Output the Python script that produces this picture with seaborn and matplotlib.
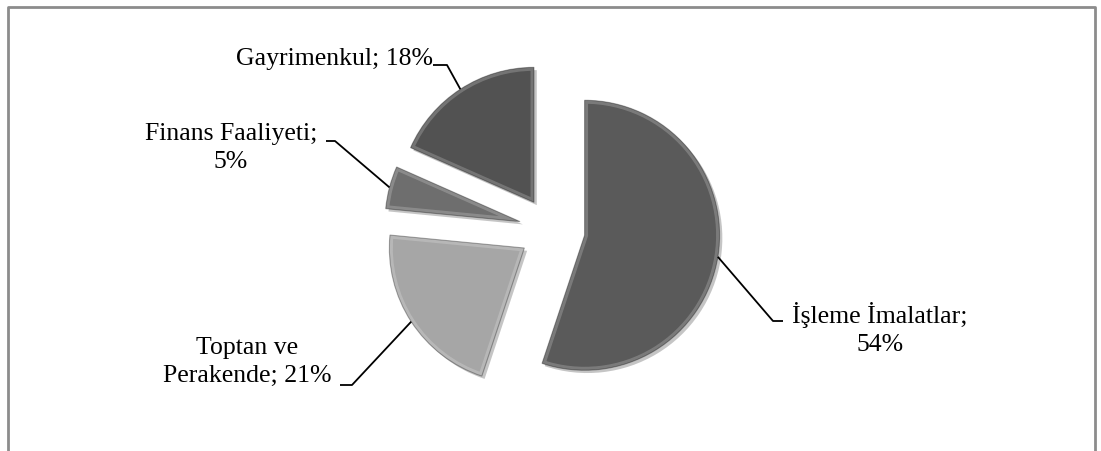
"""Exploded pie of sector shares, redrawn in grey tones"""

import matplotlib
matplotlib.use("Agg")
import matplotlib.pyplot as plt
import matplotlib.patches as mpatches
import matplotlib.patheffects as pe
import numpy as np
import seaborn as sns

sectors = ["İşleme İmalatlar", "Toptan ve Perakende", "Finans Faaliyeti", "Gayrimenkul"]
shares = [54, 21, 5, 18]
label_texts = ["İşleme İmalatlar;\n54%", "Toptan ve\nPerakende; 21%",
               "Finans Faaliyeti;\n5%", "Gayrimenkul; 18%"]
greys = ["#5a5a5a", "#a6a6a6", "#6e6e6e", "#525252"]

W, H = 1101, 451

sns.set_theme(style="white")
plt.rcParams["font.family"] = ["Liberation Serif", "DejaVu Serif"]

fig = plt.figure(figsize=(W / 100, H / 100), dpi=100)
ax = fig.add_axes([0, 0, 1, 1])

# pixel layout (y down); the pie is drawn in a flipped frame
cx, cy, rad, expl = 552, 230, 135, 33

wedges, _ = ax.pie(shares, colors=greys, startangle=-90, counterclock=True,
                   radius=rad, center=(cx, cy), explode=[expl] * len(shares),
                   frame=True, wedgeprops=dict(linewidth=0))
ax.set_xlim(0, W)
ax.set_ylim(H, 0)
ax.set_aspect("equal")
ax.axis("off")

for w in wedges:
    w.set_path_effects([pe.SimplePatchShadow(offset=(2, -2), alpha=0.25, shadow_rgbFace="k"),
                        pe.Normal()])
    # soft bevel highlight along the inner rim
    rim = mpatches.Wedge(w.center, w.r, w.theta1, w.theta2, facecolor="none",
                         edgecolor="white", linewidth=5, alpha=0.2)
    ax.add_patch(rim)
    rim.set_clip_path(w)
    dark = mpatches.Wedge(w.center, w.r, w.theta1, w.theta2, facecolor="none",
                          edgecolor="black", linewidth=0.8, alpha=0.3)
    ax.add_patch(dark)

# label placement: (text x, text y, elbow x, elbow end x, elbow y)
label_pos = [
    (880, 329, 773, 783, 321),
    (247, 362, 352, 340, 385),
    (231, 148, 335, 326, 141),
    (334, 59, 447, 433, 65),
]

for w, txt, (tx, ty, ex, ee, ey) in zip(wedges, label_texts, label_pos):
    mid = np.deg2rad((w.theta1 + w.theta2) / 2)
    px = w.center[0] + w.r * np.cos(mid)
    py = w.center[1] + w.r * np.sin(mid)
    ax.plot([px, ex, ee], [py, ey, ey], color="black", linewidth=1.3,
            solid_capstyle="butt")
    ax.text(tx, ty, txt, ha="center", va="center", fontsize=18.5, color="black",
            linespacing=1.4)

# chart frame, bottom edge falls outside the picture
ax.plot([8, 8, 1095, 1095], [H + 5, 7, 7, H + 5], color="#8c8c8c",
        linewidth=2, clip_on=False)

fig.savefig("out.png", dpi=100)
